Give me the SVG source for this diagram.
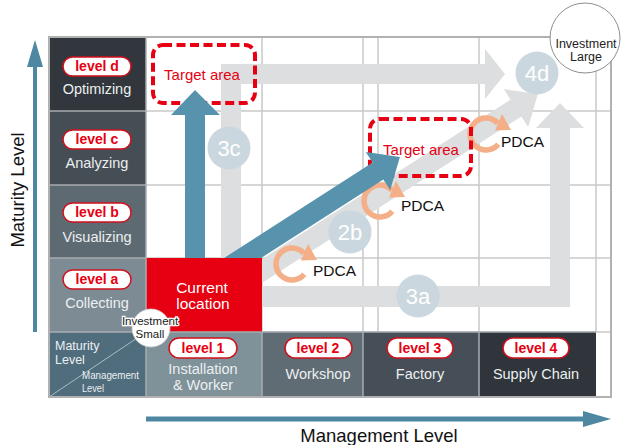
<svg xmlns="http://www.w3.org/2000/svg" width="621" height="445" viewBox="0 0 621 445">
  <defs>
    <style>
      .grid{stroke:#c9c9c9;stroke-width:1.5;fill:none}
      .frame{stroke:#b1b1b1;stroke-width:2;fill:none}
      .sep{stroke:#a7adb1;stroke-width:1.5}
      .pill rect{fill:#fff;stroke:#d0101c;stroke-width:1.5}
      .pill text{font-family:"Liberation Sans",Arial,sans-serif;font-weight:bold;font-size:14px;fill:#e60012;text-anchor:middle}
      .lbl{font-family:"Liberation Sans",Arial,sans-serif;font-size:14.5px;fill:#eceff1;text-anchor:middle}
      .band{fill:#dcdedf}
      .blue{fill:#5893ae}
      .tag circle{fill:#cbd7df}
      .tag text{font-family:"Liberation Sans",Arial,sans-serif;font-size:22px;fill:#fff;text-anchor:middle}
      .pdcat{font-family:"Liberation Sans",Arial,sans-serif;font-size:15.5px;fill:#111}
      .target rect{fill:none;stroke:#e60012;stroke-width:4;stroke-dasharray:9 4.5}
      .target text{font-family:"Liberation Sans",Arial,sans-serif;font-size:15px;fill:#e60012;text-anchor:middle}
      .axis{fill:#4e87a1}
      .axistxt{font-family:"Liberation Sans",Arial,sans-serif;font-size:18.5px;fill:#111;text-anchor:middle}
      .inv circle{fill:#fff}
      .inv text{font-family:"Liberation Sans",Arial,sans-serif;fill:#222;text-anchor:middle}
      .key{font-family:"Liberation Sans",Arial,sans-serif;fill:#eceff1}
    </style>
    <!-- circular PDCA arrow, centred on the origin -->
    <g id="pdca-mark">
      <path d="M12.3 10.3 A16 16 0 1 1 11.9 -10.7" fill="none" stroke="#f4ae88" stroke-width="5.5"/>
      <polygon points="16,-20 9,-3.5 25,-4" fill="#f4ae88"/>
    </g>
  </defs>

  <rect width="621" height="445" fill="#fff"/>

  <!-- grid -->
  <g id="grid" class="grid">
    <line x1="146" y1="111" x2="611" y2="111"/>
    <line x1="146" y1="185" x2="611" y2="185"/>
    <line x1="146" y1="258" x2="611" y2="258"/>
    <line x1="146" y1="332" x2="611" y2="332"/>
    <line x1="262" y1="37" x2="262" y2="332"/>
    <line x1="363" y1="37" x2="363" y2="332"/>
    <line x1="378" y1="37" x2="378" y2="332"/>
    <line x1="479" y1="37" x2="479" y2="332"/>
    <line x1="596" y1="37" x2="596" y2="332"/>
  </g>

  <!-- connectors: improvement paths -->
  <g id="connectors">
    <!-- path 3c: up, then right -->
    <polygon class="band" points="221,270 221,64 485,64 485,49 505,74 485,99 485,84 241,84 241,270"/>
    <!-- path 2b: diagonal -->
    <polygon class="band" points="235.6,276.1 510.6,99.6 503.8,89.1 537.9,93.9 528.2,126.9 521.4,116.4 246.4,292.9"/>
    <!-- path 3a: right, then up -->
    <polygon class="band" points="250,286 550,286 550,128 536,128 560,103 584,128 570,128 570,307 250,307"/>
  </g>

  <!-- path tags -->
  <g id="tag-3c" class="tag"><circle cx="229" cy="148" r="21.5"/><text x="229" y="156">3c</text></g>
  <g id="tag-2b" class="tag"><circle cx="350" cy="232" r="21.5"/><text x="350" y="240">2b</text></g>
  <g id="tag-3a" class="tag"><circle cx="418" cy="296" r="21.5"/><text x="418" y="304">3a</text></g>
  <g id="tag-4d" class="tag"><circle cx="537" cy="73" r="21.5"/><text x="537" y="81">4d</text></g>

  <!-- PDCA cycles -->
  <g id="pdca-1"><use href="#pdca-mark" transform="translate(292,264)"/><text class="pdcat" x="313" y="276">PDCA</text></g>
  <g id="pdca-2"><use href="#pdca-mark" transform="translate(380,201)"/><text class="pdcat" x="401" y="211">PDCA</text></g>
  <g id="pdca-3"><use href="#pdca-mark" transform="translate(486,134)"/><text class="pdcat" x="501" y="147">PDCA</text></g>

  <!-- target areas -->
  <g id="target-1" class="target"><rect x="153" y="45" width="102" height="58" rx="10"/><text x="202" y="80">Target area</text></g>
  <g id="target-2" class="target"><rect x="370" y="119" width="101" height="57" rx="10"/><text x="421" y="155">Target area</text></g>

  <!-- direct routes -->
  <g id="routes">
    <polygon class="blue" points="185,270 185,115 171,115 195,90 220,115 205,115 205,270"/>
    <polygon class="blue" points="220.3,260.4 372.6,162.6 365.8,152.1 399.9,156.9 390.2,189.9 383.4,179.4 231.1,277.2"/>
  </g>

  <!-- current location -->
  <g id="current">
    <rect x="146" y="258" width="116" height="74" fill="#e60012"/>
    <text x="202" y="293" font-family="Liberation Sans, Arial, sans-serif" font-size="15.5" fill="#fff" text-anchor="middle">Current</text>
    <text x="203" y="309" font-family="Liberation Sans, Arial, sans-serif" font-size="15.5" fill="#fff" text-anchor="middle">location</text>
  </g>

  <!-- maturity levels -->
  <g id="maturity-d">
    <rect x="49" y="37" width="97" height="74" fill="#31373c"/>
    <g class="pill"><rect x="63" y="57" width="68" height="19" rx="9.5"/><text x="97" y="71">level d</text></g>
    <text class="lbl" x="97" y="94">Optimizing</text>
  </g>
  <g id="maturity-c">
    <rect x="49" y="111" width="97" height="74" fill="#454e55"/>
    <g class="pill"><rect x="63" y="130" width="68" height="19" rx="9.5"/><text x="97" y="144">level c</text></g>
    <text class="lbl" x="97" y="168">Analyzing</text>
  </g>
  <g id="maturity-b">
    <rect x="49" y="185" width="97" height="73" fill="#5e6a72"/>
    <g class="pill"><rect x="63" y="203" width="68" height="19" rx="9.5"/><text x="97" y="217">level b</text></g>
    <text class="lbl" x="97" y="242">Visualizing</text>
  </g>
  <g id="maturity-a">
    <rect x="49" y="258" width="97" height="74" fill="#7d8b94"/>
    <g class="pill"><rect x="63" y="270" width="68" height="19" rx="9.5"/><text x="97" y="284">level a</text></g>
    <text class="lbl" x="97" y="308">Collecting</text>
  </g>

  <!-- axis key cell -->
  <g id="key">
    <rect x="49" y="332" width="97" height="65" fill="#4f6d7d"/>
    <line x1="49" y1="397" x2="146" y2="332" stroke="#a9bcc7" stroke-width="1"/>
    <text class="key" x="55" y="350" font-size="12.5">Maturity</text>
    <text class="key" x="55" y="364" font-size="12.5">Level</text>
    <text class="key" x="82" y="379" font-size="11.5" textLength="57" lengthAdjust="spacingAndGlyphs">Management</text>
    <text class="key" x="82" y="392" font-size="11.5" textLength="22" lengthAdjust="spacingAndGlyphs">Level</text>
  </g>

  <!-- management levels -->
  <g id="management-1">
    <rect x="146" y="332" width="116" height="65" fill="#7f9199"/>
    <g class="pill"><rect x="169" y="338" width="68" height="20" rx="10"/><text x="203" y="353">level 1</text></g>
    <text class="lbl" x="203" y="374">Installation</text>
    <text class="lbl" x="203" y="390">&amp; Worker</text>
  </g>
  <g id="management-2">
    <rect x="262" y="332" width="101" height="65" fill="#5f6c73"/>
    <g class="pill"><rect x="285" y="338" width="67" height="20" rx="10"/><text x="318" y="353">level 2</text></g>
    <text class="lbl" x="318" y="379">Workshop</text>
  </g>
  <g id="management-3">
    <rect x="363" y="332" width="116" height="65" fill="#464f57"/>
    <g class="pill"><rect x="387" y="338" width="66" height="20" rx="10"/><text x="420" y="353">level 3</text></g>
    <text class="lbl" x="420" y="379">Factory</text>
  </g>
  <g id="management-4">
    <rect x="479" y="332" width="117" height="65" fill="#2f353a"/>
    <g class="pill"><rect x="503" y="338" width="66" height="20" rx="10"/><text x="536" y="353">level 4</text></g>
    <text class="lbl" x="536" y="379">Supply Chain</text>
  </g>

  <!-- cell separators -->
  <g class="sep">
    <line x1="49" y1="111" x2="146" y2="111"/>
    <line x1="49" y1="185" x2="146" y2="185"/>
    <line x1="49" y1="258" x2="146" y2="258"/>
    <line x1="49" y1="332" x2="596" y2="332"/>
    <line x1="146" y1="37" x2="146" y2="397"/>
    <line x1="262" y1="332" x2="262" y2="397"/>
    <line x1="363" y1="332" x2="363" y2="397"/>
    <line x1="479" y1="332" x2="479" y2="397"/>
  </g>

  <!-- outer frame -->
  <rect class="frame" x="49" y="37" width="562" height="360"/>

  <!-- investment scale -->
  <g id="investment-small" class="inv">
    <circle cx="151" cy="328" r="19" stroke="#d0d0d0" stroke-width="0.8"/>
    <text x="150" y="325" font-size="11.5" stroke="#fff" stroke-width="2.5" paint-order="stroke">Investment</text>
    <text x="150" y="338" font-size="11.5">Small</text>
  </g>
  <g id="investment-large" class="inv">
    <circle cx="585" cy="38" r="35" stroke="#8e8e8e" stroke-width="1"/>
    <text x="586" y="48" font-size="12.5">Investment</text>
    <text x="586" y="61" font-size="12.5">Large</text>
  </g>

  <!-- axes -->
  <g id="axis-maturity">
    <polygon class="axis" points="33,332 33,67 27,67 35,40 43,67 37,67 37,332"/>
    <text class="axistxt" x="24" y="190" transform="rotate(-90 24 190)">Maturity Level</text>
  </g>
  <g id="axis-management">
    <polygon class="axis" points="146,416.5 583,416.5 583,411 611,419 583,427 583,421.5 146,421.5"/>
    <text class="axistxt" x="379" y="442">Management Level</text>
  </g>
</svg>
